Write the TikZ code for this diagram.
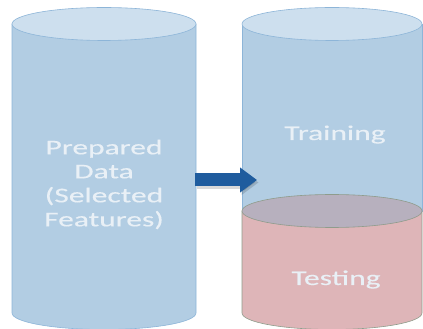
\documentclass[tikz,border=0pt]{standalone}
\usepackage{fontspec}
\newfontfamily\labelfont[FakeStretch=1.5,FakeBold=0.3]{Carlito}
\usetikzlibrary{arrows.meta}
\definecolor{bodyblue}{HTML}{B2CDE3}
\definecolor{capblue}{HTML}{CDDFEE}
\definecolor{edgeblue}{HTML}{8DB5D8}
\definecolor{bodypink}{HTML}{DEB5B8}
\definecolor{cappink}{HTML}{B7B0BE}
\definecolor{edgepink}{HTML}{8F9C8C}
\definecolor{arrowblue}{HTML}{1F5C9E}
\definecolor{labelwhite}{HTML}{E9F0F6}
\begin{document}
\begin{tikzpicture}[x=1pt,y=1pt,
  labeltext/.style={text=labelwhite, font=\labelfont\fontsize{21}{24}\selectfont,
    align=center, inner sep=0pt},
  bluebody/.style={fill=bodyblue, draw=edgeblue, line width=0.6pt},
  bluecap/.style={fill=capblue, draw=edgeblue, line width=0.6pt},
  pinkbody/.style={fill=bodypink, draw=edgepink, line width=0.6pt},
  pinkcap/.style={fill=cappink, draw=edgepink, line width=0.6pt},
  bigarrow/.style={line width=13pt, -{Triangle[length=17pt,width=24pt]}}]
\useasboundingbox (0,0) rectangle (423,329);

% whole data set
\filldraw[bluebody] (12,305) -- (12,16)
  arc[start angle=180, end angle=360, x radius=92, y radius=16.5]
  -- (196,305) -- cycle;
\filldraw[bluecap] (104,305) ellipse[x radius=92, y radius=16.5];

% training part (upper, blue)
\filldraw[bluebody] (242,305) -- (242,118) -- (422,118) -- (422,305) -- cycle;
\filldraw[bluecap] (332,305) ellipse[x radius=90, y radius=16.5];

% testing part (lower, pink)
\filldraw[pinkbody] (242,118) -- (242,16)
  arc[start angle=180, end angle=360, x radius=90, y radius=16.5]
  -- (422,118) -- cycle;
\filldraw[pinkcap] (332,118) ellipse[x radius=90, y radius=16.5];

% labels
\node[labeltext] (prep) at (104,144.5) {Prepared\\Data\\(Selected\\Features)};
\node[labeltext, anchor=base] (train) at (335,189) {Training};
\node[labeltext, anchor=base] (test) at (336,44) {Testing};

% split arrow
\coordinate (tail) at (195,149);
\coordinate (tip) at (257,149);
\draw[bigarrow, black, opacity=0.15, transform canvas={shift={(1.5pt,-2.5pt)}}] (tail) -- (tip);
\draw[bigarrow, arrowblue] (tail) -- (tip);
\end{tikzpicture}
\end{document}
